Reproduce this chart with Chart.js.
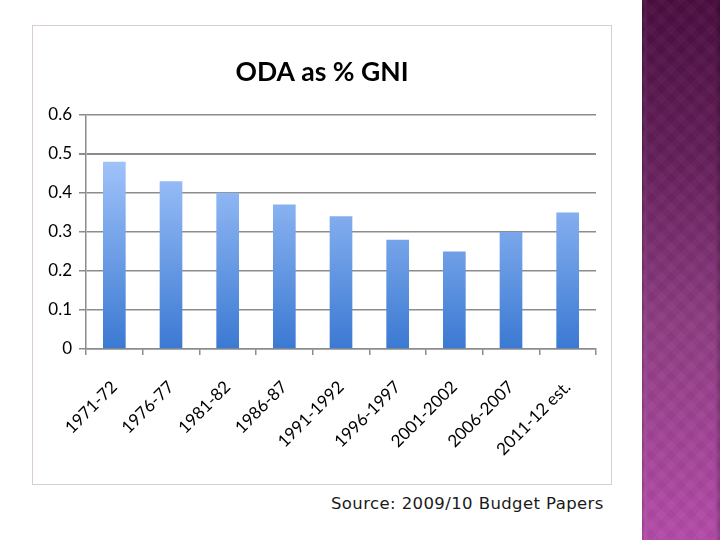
<!DOCTYPE html>
<html>
<head>
<meta charset="utf-8">
<script src="https://cdn.jsdelivr.net/npm/chart.js@4"></script>
<style>
  html, body { margin: 0; padding: 0; background: #ffffff; width: 720px; height: 540px; overflow: hidden; }
  #stripe {
    position: absolute; left: 642px; top: 0; width: 78px; height: 540px;
    background:
      linear-gradient(90deg, rgba(0,0,0,0.15) 0px, rgba(255,255,255,0.05) 3px, rgba(0,0,0,0) 6px, rgba(0,0,0,0) 73px, rgba(0,0,0,0.22) 78px),
      repeating-linear-gradient(45deg, rgba(255,255,255,0.018) 0 7px, rgba(0,0,0,0.018) 7px 14px),
      repeating-linear-gradient(-45deg, rgba(255,255,255,0.018) 0 7px, rgba(0,0,0,0.018) 7px 14px),
      linear-gradient(180deg, #4a0d3f 0%, #65205b 30%, #8e3c82 60%, #b34aa8 100%);
  }
  #box {
    position: absolute; left: 32px; top: 25px; width: 578px; height: 458px;
    border: 1px solid #d9cdd0; box-sizing: content-box; background: #ffffff;
  }
  #source {
    position: absolute; left: 331px; top: 494px;
    font-family: "DejaVu Sans", sans-serif; font-size: 16.5px; font-weight: normal;
    letter-spacing: 0.4px; color: #1a1a1a; white-space: nowrap;
  }
</style>
</head>
<body>
<div id="stripe"></div>
<div id="box"><canvas id="c" width="578" height="458"></canvas></div>
<div id="source">Source: 2009/10 Budget Papers</div>
<script>
const categories = ["1971-72", "1976-77", "1981-82", "1986-87", "1991-1992", "1996-1997", "2001-2002", "2006-2007", "2011-12 est."];
const odaValues = [0.48, 0.43, 0.40, 0.37, 0.34, 0.28, 0.25, 0.30, 0.35];
const yTicks = [0, 0.1, 0.2, 0.3, 0.4, 0.5, 0.6];
const chartTitle = "ODA as % GNI";

function barGradient(ctx) {
  const chart = ctx.chart;
  const area = chart.chartArea;
  if (!area) return "#5b8fe0";
  const g = chart.ctx.createLinearGradient(0, area.top + 40, 0, area.bottom);
  g.addColorStop(0, "#a3c5fb");
  g.addColorStop(1, "#3b79d2");
  return g;
}

const labelFont = { family: "Lato, 'Open Sans', sans-serif", size: 17 };

new Chart(document.getElementById("c"), {
  type: "bar",
  data: {
    labels: categories,
    datasets: [{
      data: odaValues,
      backgroundColor: barGradient,
      borderWidth: 0,
      categoryPercentage: 0.8,
      barPercentage: 0.5
    }]
  },
  options: {
    responsive: false,
    animation: false,
    devicePixelRatio: 1,
    layout: { padding: { left: 15, right: 15, top: 0, bottom: 0 } },
    plugins: {
      legend: { display: false },
      tooltip: { enabled: false },
      title: {
        display: true,
        text: chartTitle,
        color: "#000",
        font: { family: "Lato, 'Open Sans', sans-serif", size: 26.5, weight: "bold", lineHeight: 1.2 },
        padding: { top: 31, bottom: 26 }
      }
    },
    scales: {
      y: {
        min: 0, max: 0.6,
        afterBuildTicks: (s) => { s.ticks = yTicks.map(v => ({ value: v })); },
        afterFit: (s) => { s.width = 38; },
        ticks: {
          color: "#000",
          font: labelFont,
          padding: 7,
          callback: (v) => String(Math.round(v * 10) / 10)
        },
        grid: { color: "#8c8c8c", lineWidth: (c) => (c.tick && c.tick.value === 0.5 ? 2 : 1.5), tickLength: 7 },
        border: { display: true, color: "#8c8c8c", width: 1.5 }
      },
      x: {
        afterFit: (s) => { s.height = 135; },
        ticks: {
          color: "#000",
          font: labelFont,
          maxRotation: 45, minRotation: 45,
          padding: 22
        },
        grid: { display: true, drawOnChartArea: false, color: "#8c8c8c", lineWidth: 1.5, tickLength: 6, offset: true },
        border: { display: true, color: "#8c8c8c", width: 1.5 }
      }
    }
  }
});
</script>
</body>
</html>
